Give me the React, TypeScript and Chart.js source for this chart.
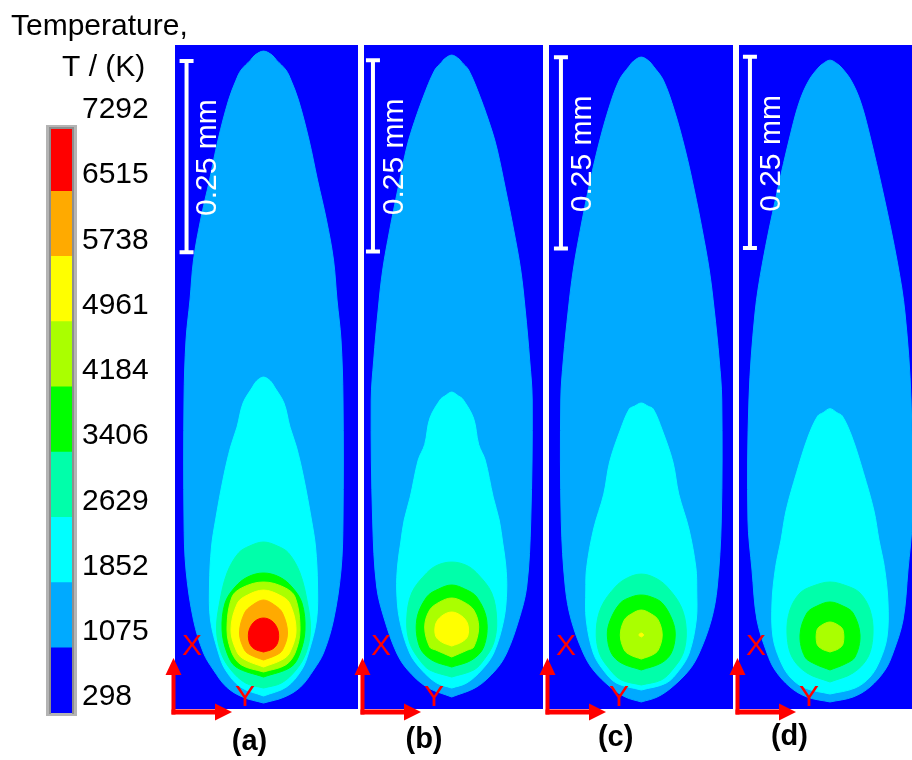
import { useEffect, useRef } from 'react';
import { Chart, registerables } from 'chart.js';

Chart.register(...registerables);

const FONT = "'Liberation Sans', Arial, Helvetica, sans-serif";

// Isotherm levels (K); band i spans levels[i] .. levels[i + 1]
const levels = [298, 1075, 1852, 2629, 3406, 4184, 4961, 5738, 6515, 7292];
const bandColors = ['#0000ff', '#00aaff', '#00ffff', '#00ffaa', '#00ff00', '#aaff00', '#ffff00', '#ffaa00', '#ff0000'];
const tickLabels = levels.map((v) => String(v));
const panelTags = ['(a)', '(b)', '(c)', '(d)'];
const headerLines = ['Temperature,', 'T / (K)'];
const scaleBarLength = 250; // µm
const scaleBarLabel = '0.25 mm';

// Isotherm outlines: [axial distance from the lower edge (µm), half-width (µm)], bottom to top.
// Panel (a)
const a1075: [number, number][] = [[7.8, 0], [15.7, 27.4], [28.8, 48.4], [51.0, 65.4], [73.2, 78.4], [116.3, 91.5], [181.7, 101.3], [247.0, 103.9], [403.9, 103.9], [482.3, 101.3], [534.6, 96.1], [586.8, 91.5], [639.1, 82.3], [691.4, 70.6], [743.7, 59.5], [796.0, 45.7], [822.1, 35.9], [835.2, 29.4], [848.2, 17.0], [854.8, 11.2], [860.0, 0]];
const a1852: [number, number][] = [[17.0, 0], [28.8, 30.1], [51.0, 49.7], [73.2, 58.8], [116.3, 69.3], [162.1, 70.6], [211.7, 68.0], [247.0, 62.7], [303.2, 52.3], [342.4, 43.1], [368.6, 34.6], [399.9, 26.8], [420.9, 14.4], [428.7, 9.1], [433.9, 0]];
const a2629: [number, number][] = [[27.4, 0], [34.0, 23.5], [51.0, 42.5], [73.2, 55.5], [103.3, 61.4], [138.5, 57.5], [177.8, 47.7], [203.9, 32.7], [213.0, 18.3], [218.3, 0]];
const a3406: [number, number][] = [[41.8, 0], [54.9, 35.9], [73.2, 47.7], [103.3, 54.2], [138.5, 50.3], [159.5, 37.2], [172.5, 20.9], [177.8, 0]];
const a4184: [number, number][] = [[48.4, 0], [57.5, 28.8], [73.2, 41.2], [103.3, 47.7], [146.4, 41.2], [159.5, 26.1], [166.0, 0]];
const a4961: [number, number][] = [[54.9, 0], [64.0, 23.5], [73.2, 34.0], [103.3, 42.5], [138.5, 34.0], [149.0, 20.9], [155.5, 0]];
const a5738: [number, number][] = [[64.0, 0], [70.6, 17.0], [77.1, 24.8], [99.3, 31.4], [125.5, 24.8], [135.9, 14.4], [142.5, 0]];
const a6515: [number, number][] = [[74.5, 0], [78.4, 11.8], [86.3, 18.3], [99.3, 19.6], [109.8, 15.7], [116.3, 9.1], [118.9, 0]];

// Panel (b)
const b1075: [number, number][] = [[15.7, 0], [28.8, 32.7], [51.0, 57.5], [73.2, 71.9], [116.3, 87.6], [159.5, 98.0], [247.0, 103.3], [403.9, 105.2], [456.1, 101.9], [521.5, 96.1], [573.8, 90.2], [626.1, 81.0], [678.3, 70.6], [730.6, 59.6], [756.8, 52.3], [799.9, 37.2], [835.2, 22.2], [845.6, 13.1], [849.6, 9.8], [854.8, 0]];
const b1852: [number, number][] = [[27.4, 0], [34.0, 19.6], [51.0, 39.2], [73.2, 54.9], [116.3, 68.0], [155.5, 71.9], [188.2, 70.6], [217.0, 66.7], [247.0, 62.1], [277.1, 54.2], [325.4, 43.8], [345.7, 35.3], [380.3, 28.5], [405.2, 14.4], [409.1, 9.0], [414.3, 0]];
const b2629: [number, number][] = [[41.8, 0], [51.0, 28.8], [64.0, 41.8], [86.3, 54.9], [116.3, 58.8], [151.6, 52.3], [177.8, 32.7], [188.2, 18.3], [192.1, 0]];
const b3406: [number, number][] = [[54.9, 0], [64.0, 26.1], [81.0, 41.8], [116.3, 45.7], [146.4, 32.7], [156.9, 17.0], [162.1, 0]];
const b4184: [number, number][] = [[68.0, 0], [77.1, 20.9], [81.0, 28.8], [107.2, 35.3], [129.4, 28.8], [139.9, 15.7], [145.1, 0]];
const b4961: [number, number][] = [[82.3, 0], [87.5, 13.1], [95.3, 20.9], [111.1, 20.9], [121.5, 13.1], [126.8, 0]];

// Panel (c)
const c1075: [number, number][] = [[9.2, 0], [15.7, 20.9], [28.8, 40.5], [51.0, 62.7], [73.2, 75.8], [116.3, 91.5], [159.5, 99.3], [247.0, 104.6], [403.9, 105.2], [456.1, 101.9], [521.5, 95.4], [573.8, 88.9], [626.1, 79.7], [678.3, 69.3], [730.6, 57.5], [782.9, 43.1], [822.1, 28.8], [840.4, 15.7], [847.0, 10.0], [852.2, 0]];
const c1852: [number, number][] = [[24.8, 0], [34.0, 32.7], [51.0, 49.7], [73.2, 62.7], [116.3, 71.9], [155.5, 72.5], [184.7, 71.4], [235.3, 62.3], [281.0, 49.0], [322.8, 41.4], [364.7, 27.4], [392.1, 15.7], [395.8, 9.0], [400.0, 0]];
const c2629: [number, number][] = [[31.4, 0], [37.9, 26.1], [51.0, 40.5], [73.2, 54.9], [103.3, 58.8], [133.3, 52.3], [159.5, 34.0], [171.3, 18.3], [176.4, 0]];
const c3406: [number, number][] = [[51.0, 0], [60.1, 26.1], [73.2, 39.2], [96.7, 44.4], [116.3, 40.5], [138.5, 27.4], [146.4, 13.1], [149.0, 0]];
const c4184: [number, number][] = [[65.3, 0], [70.6, 14.4], [77.1, 22.2], [96.7, 27.4], [116.3, 22.2], [124.2, 13.1], [129.4, 0]];
const c4961: [number, number][] = [[94.1, 0], [96.7, 3.3], [99.3, 0]];

// Panel (d)
const d1075: [number, number][] = [[9.2, 0], [15.7, 30.1], [28.8, 52.3], [51.0, 71.9], [73.2, 82.3], [116.3, 95.4], [181.7, 101.9], [247.0, 107.2], [403.9, 105.9], [517.6, 98.0], [582.9, 88.2], [669.2, 70.6], [756.8, 50.3], [796.0, 39.2], [822.1, 27.4], [837.8, 15.7], [843.0, 10.0], [848.2, 0]];
const d1852: [number, number][] = [[19.6, 0], [27.4, 32.7], [41.8, 52.3], [64.0, 65.4], [94.1, 74.5], [138.5, 75.8], [184.7, 71.2], [220.9, 64.0], [258.8, 57.5], [308.8, 43.7], [355.5, 28.8], [383.0, 16.1], [387.4, 9.0], [392.6, 0]];
const d2629: [number, number][] = [[35.3, 0], [47.1, 30.1], [68.0, 49.7], [99.3, 56.2], [129.4, 52.3], [151.6, 39.2], [160.8, 22.2], [166.0, 0]];
const d3406: [number, number][] = [[51.0, 0], [58.8, 19.6], [68.0, 32.7], [96.7, 39.2], [125.5, 30.1], [134.6, 17.0], [139.9, 0]];
const d4184: [number, number][] = [[74.5, 0], [78.4, 10.5], [85.0, 17.0], [103.3, 17.0], [109.8, 10.5], [113.7, 0]];

// Each list starts at the 1075 K isotherm and goes inward
const contoursA = [a1075, a1852, a2629, a3406, a4184, a4961, a5738, a6515];
const contoursB = [b1075, b1852, b2629, b3406, b4184, b4961];
const contoursC = [c1075, c1852, c2629, c3406, c4184, c4961];
const contoursD = [d1075, d1852, d2629, d3406, d4184];

// Layout
const PAGE_W = 912;
const PAGE_H = 760;
const PANEL_TOP = 45;
const PANEL_BOTTOM = 709;
const ARROW_ROOM = 12;
const DOMAIN_HEIGHT = 868; // µm shown vertically in every panel

type Panel = {
  tag: string;
  left: number;
  right: number;
  xMin: number;
  xMax: number;
  contours: [number, number][][];
  barX: number;
  barZ: number;
  tagDx: number;
  tagY: number;
};

const panels: Panel[] = [
  { tag: panelTags[0], left: 175, right: 358, xMin: -115.7, xMax: 123.5, contours: contoursA, barX: -100.6, barZ: 597, tagDx: 74.5, tagY: 742 },
  { tag: panelTags[1], left: 364, right: 543, xMin: -114.6, xMax: 119.3, contours: contoursB, barX: -102.9, barZ: 598, tagDx: 60, tagY: 740 },
  { tag: panelTags[2], left: 549, right: 733, xMin: -120.6, xMax: 119.9, contours: contoursC, barX: -105.0, barZ: 602, tagDx: 66.6, tagY: 738 },
  { tag: panelTags[3], left: 739, right: 922, xMin: -118.9, xMax: 120.2, contours: contoursD, barX: -104.6, barZ: 602.5, tagDx: 50.4, tagY: 737 },
];

// Mirror a half outline into a closed loop: up the left flank, down the right one
function outlineOf(pts: [number, number][]) {
  const left = pts.map(([z, r]) => ({ x: -r, y: z }));
  const right = pts
    .slice(0, -1)
    .reverse()
    .map(([z, r]) => ({ x: r, y: z }));
  return [...left, ...right];
}

function drawArrow(ctx: CanvasRenderingContext2D, L: number, B: number) {
  const red = '#ff0000';
  const sx = L - 1.5;
  const hy = B + 3;
  const tipY = B - 51;
  const tipX = L + 57;
  ctx.fillStyle = red;
  // vertical shaft and head
  ctx.fillRect(sx - 2, tipY + 15, 4, hy + 2.5 - (tipY + 15));
  ctx.beginPath();
  ctx.moveTo(sx, tipY);
  ctx.lineTo(sx - 8, tipY + 17);
  ctx.lineTo(sx + 8, tipY + 17);
  ctx.closePath();
  ctx.fill();
  // horizontal shaft and head
  ctx.fillRect(sx - 2, hy - 2.5, tipX - 15 - (sx - 2), 5);
  ctx.beginPath();
  ctx.moveTo(tipX, hy);
  ctx.lineTo(tipX - 17, hy - 8.5);
  ctx.lineTo(tipX - 17, hy + 8.5);
  ctx.closePath();
  ctx.fill();
  ctx.font = `30px ${FONT}`;
  ctx.textAlign = 'center';
  ctx.textBaseline = 'alphabetic';
  ctx.fillText('X', L + 17, B - 64.5 + 10.7);
  ctx.fillText('Y', L + 70, B - 13.5 + 10.7);
}

function PanelChart({ p }: { p: Panel }) {
  const ref = useRef<HTMLCanvasElement | null>(null);
  const width = p.right - p.left + ARROW_ROOM;

  useEffect(() => {
    if (!ref.current) return;
    const decor = {
      id: 'panelDecor',
      beforeDraw(chart: Chart) {
        const { ctx, chartArea: a } = chart;
        ctx.save();
        ctx.fillStyle = bandColors[0];
        ctx.fillRect(a.left, a.top, a.right - a.left, a.bottom - a.top);
        ctx.restore();
      },
      afterDraw(chart: Chart) {
        const { ctx, chartArea: a } = chart;
        const xs = chart.scales.x;
        const ys = chart.scales.y;
        ctx.save();
        // scale bar
        const bx = xs.getPixelForValue(p.barX);
        const y0 = ys.getPixelForValue(p.barZ);
        const y1 = ys.getPixelForValue(p.barZ + scaleBarLength);
        ctx.strokeStyle = '#ffffff';
        ctx.lineWidth = 4;
        ctx.lineCap = 'butt';
        ctx.beginPath();
        ctx.moveTo(bx, y0 + 2);
        ctx.lineTo(bx, y1 - 2);
        ctx.moveTo(bx - 7, y0);
        ctx.lineTo(bx + 7, y0);
        ctx.moveTo(bx - 7, y1);
        ctx.lineTo(bx + 7, y1);
        ctx.stroke();
        ctx.save();
        ctx.translate(bx + 21.5, (y0 + y1) / 2 + 1);
        ctx.rotate(-Math.PI / 2);
        ctx.fillStyle = '#ffffff';
        ctx.font = `30px ${FONT}`;
        ctx.textAlign = 'center';
        ctx.textBaseline = 'middle';
        ctx.fillText(scaleBarLabel, 0, 0);
        ctx.restore();
        // coordinate triad
        drawArrow(ctx, a.left, a.bottom);
        // panel tag
        ctx.fillStyle = '#000000';
        ctx.font = `bold 29px ${FONT}`;
        ctx.textAlign = 'center';
        ctx.textBaseline = 'alphabetic';
        ctx.fillText(p.tag, a.left + p.tagDx, p.tagY + 7.5);
        ctx.restore();
      },
    };

    const n = p.contours.length;
    const chart = new Chart(ref.current, {
      type: 'scatter',
      data: {
        datasets: p.contours.map((pts, i) => ({
          data: outlineOf(pts),
          showLine: true,
          fill: 'shape',
          backgroundColor: bandColors[i + 1],
          borderColor: bandColors[i + 1],
          borderWidth: 1,
          pointRadius: 0,
          pointHoverRadius: 0,
          tension: 0.35,
          order: n - i,
        })),
      },
      options: {
        animation: false,
        responsive: false,
        devicePixelRatio: 1,
        events: [],
        layout: { padding: { left: ARROW_ROOM, right: 0, top: PANEL_TOP, bottom: PAGE_H - PANEL_BOTTOM } },
        plugins: { legend: { display: false }, tooltip: { enabled: false } },
        scales: {
          x: { type: 'linear', display: false, min: p.xMin, max: p.xMax },
          y: { type: 'linear', display: false, min: 0, max: DOMAIN_HEIGHT },
        },
      } as any,
      plugins: [decor],
    });
    return () => chart.destroy();
  }, [p]);

  return (
    <canvas
      ref={ref}
      width={width}
      height={PAGE_H}
      style={{ position: 'absolute', left: p.left - ARROW_ROOM, top: 0, width, height: PAGE_H }}
    />
  );
}

function ColorBar() {
  const ref = useRef<HTMLCanvasElement | null>(null);
  const W = 200;

  useEffect(() => {
    if (!ref.current) return;
    const decor = {
      id: 'barDecor',
      afterDraw(chart: Chart) {
        const { ctx, chartArea: a } = chart;
        const w = a.right - a.left;
        const h = a.bottom - a.top;
        ctx.save();
        // bevelled grey frame
        ctx.fillStyle = '#b4b4b4';
        ctx.fillRect(a.left - 5, a.top - 1, 5, h + 4);
        ctx.fillRect(a.right, a.top - 1, 5, h + 4);
        ctx.fillRect(a.left - 5, a.top - 1, w + 10, 4);
        ctx.fillRect(a.left - 5, a.bottom, w + 10, 3);
        ctx.fillStyle = '#8e8e8e';
        ctx.fillRect(a.left - 2, a.top + 1, 2, h);
        ctx.fillRect(a.right, a.top + 1, 2, h);
        ctx.fillRect(a.left - 2, a.top + 1, w + 4, 2);
        // header
        ctx.fillStyle = '#000000';
        ctx.font = `30px ${FONT}`;
        ctx.textAlign = 'left';
        ctx.textBaseline = 'alphabetic';
        ctx.fillText(headerLines[0], 11, 35);
        ctx.fillText(headerLines[1], 62, 76);
        ctx.restore();
      },
    };

    const chart = new Chart(ref.current, {
      type: 'bar',
      data: {
        labels: [''],
        datasets: bandColors.map((c, i) => ({
          data: [[levels[i], levels[i + 1]]],
          backgroundColor: c,
          borderWidth: 0,
          grouped: false,
          barPercentage: 1,
          categoryPercentage: 1,
        })),
      },
      options: {
        animation: false,
        responsive: false,
        devicePixelRatio: 1,
        events: [],
        layout: { padding: { left: 51, right: 0, top: 126, bottom: PAGE_H - 713 } },
        plugins: { legend: { display: false }, tooltip: { enabled: false } },
        scales: {
          x: { display: false },
          y: {
            type: 'linear',
            position: 'right',
            min: levels[0],
            max: levels[levels.length - 1],
            grid: { display: false, drawTicks: false },
            border: { display: false },
            afterBuildTicks: (s: any) => {
              s.ticks = levels.map((v) => ({ value: v }));
            },
            afterFit: (s: any) => {
              s.width = W - 72;
            },
            ticks: {
              autoSkip: false,
              padding: 10,
              labelOffset: -16,
              color: '#000000',
              font: { family: FONT, size: 30 },
              callback: (v: number) => tickLabels[levels.indexOf(v)] ?? String(v),
            },
          },
        },
      } as any,
      plugins: [decor],
    });
    return () => chart.destroy();
  }, []);

  return (
    <canvas
      ref={ref}
      width={W}
      height={PAGE_H}
      style={{ position: 'absolute', left: 0, top: 0, width: W, height: PAGE_H }}
    />
  );
}

export default function App() {
  return (
    <div
      style={{
        position: 'absolute',
        left: 0,
        top: 0,
        width: PAGE_W,
        height: PAGE_H,
        overflow: 'hidden',
        background: '#ffffff',
      }}
    >
      <ColorBar />
      {panels.map((p) => (
        <PanelChart key={p.tag} p={p} />
      ))}
    </div>
  );
}
